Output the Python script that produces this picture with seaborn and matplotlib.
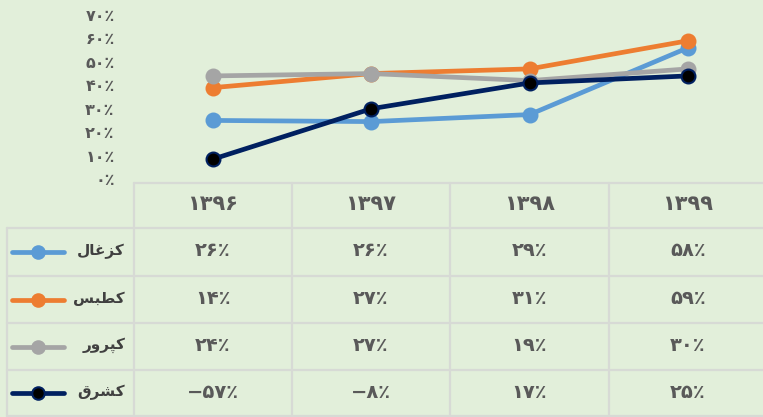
import numpy as np
import pandas as pd
import matplotlib
matplotlib.use("Agg")
import matplotlib.pyplot as plt
import seaborn as sns

# data
years = [1396, 1397, 1398, 1399]
series = ["کزغال", "کطبس", "کپرور", "کشرق"]
# plotted line values (%)
line_kazghal = [25, 24.5, 27.5, 56]
line_katbas = [39, 45, 47, 59]
line_kaprur = [44, 45, 42, 47]
line_kashargh = [8.5, 30, 41, 44]
# values printed in the data table (%)
table_kazghal = [26, 26, 29, 58]
table_katbas = [14, 27, 31, 59]
table_kaprur = [24, 27, 19, 30]
table_kashargh = [-57, -8, 17, 25]
y_ticks = [0, 10, 20, 30, 40, 50, 60, 70]

colors = ["#5B9BD5", "#ED7D31", "#A5A5A5", "#002060"]
face = ["#5B9BD5", "#ED7D31", "#A5A5A5", "#000000"]
bg = "#E2EFDA"
txt = "#595959"
grid = "#D7DAD5"

# tiny arabic shaper (matplotlib has no shaping / bidi)
FORMS = {
    "ک": ("\uFB8E", "\uFB8F", "\uFB90", "\uFB91"),
    "ز": ("\uFEAF", "\uFEB0"),
    "غ": ("\uFECD", "\uFECE", "\uFECF", "\uFED0"),
    "ا": ("\uFE8D", "\uFE8E"),
    "ل": ("\uFEDD", "\uFEDE", "\uFEDF", "\uFEE0"),
    "ط": ("\uFEC1", "\uFEC2", "\uFEC3", "\uFEC4"),
    "ب": ("\uFE8F", "\uFE90", "\uFE91", "\uFE92"),
    "س": ("\uFEB1", "\uFEB2", "\uFEB3", "\uFEB4"),
    "پ": ("\uFB56", "\uFB57", "\uFB58", "\uFB59"),
    "ر": ("\uFEAD", "\uFEAE"),
    "و": ("\uFEED", "\uFEEE"),
    "ش": ("\uFEB5", "\uFEB6", "\uFEB7", "\uFEB8"),
    "ق": ("\uFED5", "\uFED6", "\uFED7", "\uFED8"),
}


def shape(word):
    out = []
    for i, ch in enumerate(word):
        f = FORMS.get(ch)
        if f is None:
            out.append(ch)
            continue
        pj = i > 0 and word[i - 1] in FORMS and len(FORMS[word[i - 1]]) == 4
        nj = i < len(word) - 1 and word[i + 1] in FORMS and len(f) == 4
        if pj and nj:
            g = f[3]
        elif pj:
            g = f[1]
        elif nj:
            g = f[2]
        else:
            g = f[0]
        out.append(g)
    return "".join(reversed(out))


def fa(n, pct=False):
    s = str(abs(n)).translate(str.maketrans("0123456789", "۰۱۲۳۴۵۶۷۸۹"))
    if pct:
        s = s + "٪"
    if n < 0:
        s = "\u2212" + s
    return s


sns.set_style("white")
plt.rcParams["font.family"] = ["DejaVu Sans"]

W, H = 763, 417
fig = plt.figure(figsize=(W / 100, H / 100), dpi=100)
fig.patch.set_facecolor(bg)

# ---- table (pixel coordinates) ----
tab = fig.add_axes([0, 0, 1, 1])
tab.set_xlim(0, W)
tab.set_ylim(H, 0)
tab.axis("off")
tab.patch.set_alpha(0)

col_x = [134, 292, 450, 609, 767]
row_y = [183, 228, 276, 323, 370, 416]
lw = 1.6
tab.plot([134, W], [row_y[0], row_y[0]], color=grid, lw=lw)
for y in row_y[1:]:
    tab.plot([7, W], [y, y], color=grid, lw=lw)
tab.plot([7, 7], [row_y[1], row_y[-1]], color=grid, lw=lw)
for x in col_x[:-1]:
    tab.plot([x, x], [row_y[0], row_y[-1]], color=grid, lw=lw)

for j, yr in enumerate(years):
    cx = (col_x[j] + col_x[j + 1]) / 2
    tab.text(cx, (row_y[0] + row_y[1]) / 2 - 2, fa(yr), ha="center", va="center",
             fontsize=15, fontweight="bold", color=txt)

tables = [table_kazghal, table_katbas, table_kaprur, table_kashargh]
for i, name in enumerate(series):
    cy = (row_y[i + 1] + row_y[i + 2]) / 2
    tab.plot([12, 64], [cy, cy], color=colors[i], lw=3.4, solid_capstyle="round")
    tab.plot([38], [cy], marker="o", ms=9, color=colors[i], mfc=face[i], mec=colors[i], mew=1.5)
    tab.text(125, cy - 1, shape(name), ha="right", va="center", fontsize=11,
             fontweight="bold", color="#404040")
    for j, v in enumerate(tables[i]):
        cx = (col_x[j] + col_x[j + 1]) / 2
        tab.text(cx, cy - 1, fa(v, True), ha="center", va="center", fontsize=14,
                 fontweight="bold", color=txt)

# ---- line chart ----
ax = fig.add_axes([134 / W, (H - 179) / H, (767 - 134) / W, 164 / H])
ax.patch.set_alpha(0)
lines = [line_kazghal, line_katbas, line_kaprur, line_kashargh]
for i in range(len(series)):
    df = pd.DataFrame({"x": range(len(years)), "y": lines[i]})
    sns.lineplot(data=df, x="x", y="y", ax=ax, color=colors[i], lw=3.4,
                 marker="o", ms=10, mfc=face[i], mec=colors[i], mew=1.5,
                 clip_on=False, zorder=3 + i)
ax.set_xlim(-0.5, 3.5)
ax.set_ylim(0, 70)
ax.set_yticks(y_ticks)
ax.set_yticklabels([fa(t, True) for t in y_ticks], fontsize=11.5, fontweight="bold", color=txt)
ax.tick_params(axis="y", length=0, pad=14)
ax.set_xticks([])
ax.set_xlabel("")
ax.set_ylabel("")
for s in ax.spines.values():
    s.set_visible(False)

fig.savefig("out.png", dpi=100, facecolor=bg)
